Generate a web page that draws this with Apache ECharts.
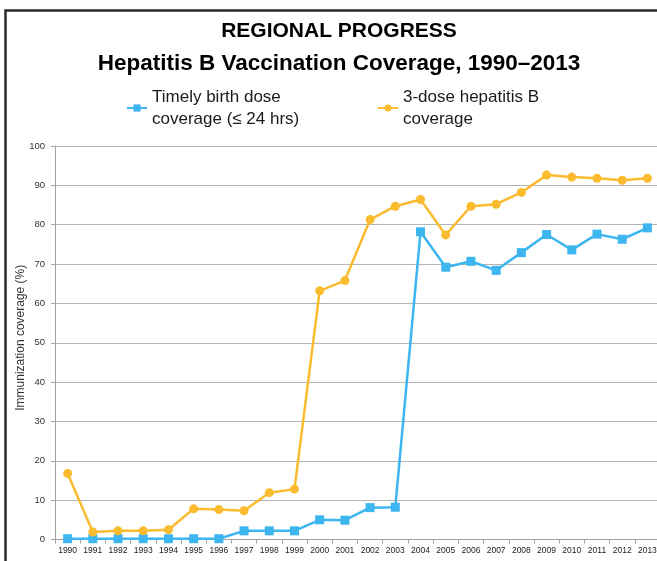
<!DOCTYPE html>
<html>
<head>
<meta charset="utf-8">
<script src="https://cdn.jsdelivr.net/npm/echarts@6/dist/echarts.min.js"></script>
<style>
  html, body { margin: 0; padding: 0; background: #fff; }
  #chart { width: 657px; height: 561px; }
</style>
</head>
<body>
<div id="chart"></div>
<script>
// Hepatitis B vaccination coverage by year, regional level
const years = ['1990','1991','1992','1993','1994','1995','1996','1997','1998','1999','2000','2001',
               '2002','2003','2004','2005','2006','2007','2008','2009','2010','2011','2012','2013'];
const birthDose = [0.2, 0.2, 0.2, 0.2, 0.2, 0.2, 0.2, 2.2, 2.2, 2.2, 5.0, 4.9,
                   8.1, 8.2, 78.2, 69.2, 70.7, 68.4, 72.9, 77.5, 73.6, 77.6, 76.3, 79.2];
const threeDose = [16.8, 1.9, 2.2, 2.2, 2.5, 7.8, 7.6, 7.3, 11.9, 12.8, 63.2, 65.8,
                   81.3, 84.7, 86.4, 77.4, 84.7, 85.2, 88.2, 92.6, 92.1, 91.8, 91.3, 91.8];
const yTicks = { min: 0, max: 100, step: 10 };
const seriesNames = ['Timely birth dose\ncoverage (\u2264 24 hrs)', '3-dose hepatitis B\ncoverage'];
const titleLines = ['REGIONAL PROGRESS', 'Hepatitis B Vaccination Coverage, 1990\u20132013'];

const BLUE = '#3db5ef';
const ORANGE = '#fbbb2f';
const FONT = 'Liberation Sans';

const chart = echarts.init(document.getElementById('chart'), null, { renderer: 'canvas' });

const legendText = { fontFamily: FONT, fontSize: 17, color: '#1a1a1a', lineHeight: 22 };

chart.setOption({
  animation: false,
  backgroundColor: '#fff',
  legend: [
    { data: [seriesNames[0]], left: 121, top: 81, itemWidth: 20, itemHeight: 9,
      textStyle: legendText },
    { data: [seriesNames[1]], left: 372, top: 81, itemWidth: 20, itemHeight: 9,
      textStyle: legendText }
  ],
  graphic: [
    // two-line heading, centred on the plot
    { type: 'text', silent: true, x: 339, y: 31,
      style: { text: titleLines[0], fontFamily: FONT, fontWeight: 'bold', fontSize: 21,
               fill: '#000', align: 'center', verticalAlign: 'middle' } },
    { type: 'text', silent: true, x: 339, y: 64,
      style: { text: titleLines[1], fontFamily: FONT, fontWeight: 'bold', fontSize: 22.5,
               fill: '#000', align: 'center', verticalAlign: 'middle' } },
    // frame around the whole figure
    { type: 'rect', silent: true, z: 100,
      shape: { x: 5.5, y: 10.5, width: 720, height: 620 },
      style: { fill: null, stroke: '#2a2a2a', lineWidth: 2.5 } }
  ],
  grid: { left: 55, top: 146, width: 605, height: 393.5, containLabel: false, outerBoundsMode: 'none' },
  xAxis: {
    type: 'category',
    data: years,
    boundaryGap: true,
    axisLine: { lineStyle: { color: '#a0a0a0', width: 1 } },
    axisTick: { show: true, alignWithLabel: false, length: 4, lineStyle: { color: '#a0a0a0' } },
    axisLabel: { interval: 0, fontFamily: FONT, fontSize: 8.5, color: '#222', margin: 7 }
  },
  yAxis: {
    type: 'value',
    min: yTicks.min, max: yTicks.max, interval: yTicks.step,
    name: 'Immunization coverage (%)',
    nameLocation: 'middle',
    nameGap: 28,
    nameMoveOverlap: false,
    nameTextStyle: { fontFamily: FONT, fontSize: 12, color: '#333', padding: [0, 0, 0, 10] },
    axisLine: { show: true, lineStyle: { color: '#a0a0a0', width: 1 } },
    axisTick: { show: true, length: 4, lineStyle: { color: '#a0a0a0' } },
    axisLabel: { fontFamily: FONT, fontSize: 9.5, color: '#333', margin: 10 },
    splitLine: { lineStyle: { color: '#b4b4b4', width: 1 } }
  },
  series: [
    { name: seriesNames[0], type: 'line', data: birthDose,
      symbol: 'rect', symbolSize: 9, showAllSymbol: true,
      lineStyle: { color: BLUE, width: 2.5 }, itemStyle: { color: BLUE } },
    { name: seriesNames[1], type: 'line', data: threeDose,
      symbol: 'circle', symbolSize: 9, showAllSymbol: true,
      lineStyle: { color: ORANGE, width: 2.5 }, itemStyle: { color: ORANGE } }
  ]
});
</script>
</body>
</html>
